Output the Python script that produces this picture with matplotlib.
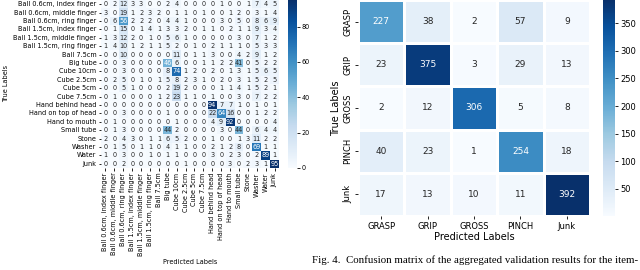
import numpy as np
import matplotlib
matplotlib.use('Agg')
import matplotlib.pyplot as plt
import seaborn as sns

# item level confusion matrix (left)
item_labels = ['Ball 0.6cm, index finger', 'Ball 0.6cm, middle finger', 'Ball 0.6cm, ring finger',
               'Ball 1.5cm, index finger', 'Ball 1.5cm, middle finger', 'Ball 1.5cm, ring finger',
               'Ball 7.5cm', 'Big tube', 'Cube 10cm', 'Cube 2.5cm', 'Cube 5cm', 'Cube 7.5cm',
               'Hand behind head', 'Hand on top of head', 'Hand to mouth', 'Small tube',
               'Stone', 'Washer', 'Water', 'Junk']
item_counts = [
    [0, 2, 12, 3, 3, 0, 0, 2, 4, 0, 0, 0, 0, 1, 0, 0, 1, 7, 4, 5],
    [3, 0, 19, 1, 2, 3, 2, 0, 1, 1, 0, 1, 0, 0, 1, 2, 0, 3, 1, 4],
    [0, 6, 56, 2, 2, 2, 0, 4, 4, 1, 0, 0, 0, 3, 0, 5, 0, 8, 6, 9],
    [0, 1, 15, 0, 1, 4, 1, 3, 3, 2, 0, 1, 1, 0, 2, 1, 1, 9, 3, 4],
    [1, 3, 12, 2, 0, 1, 0, 5, 6, 1, 0, 0, 0, 0, 0, 3, 0, 7, 1, 2],
    [1, 4, 10, 1, 2, 1, 1, 5, 2, 0, 1, 0, 2, 1, 1, 1, 0, 5, 3, 3],
    [0, 0, 10, 0, 0, 0, 0, 0, 11, 0, 1, 1, 3, 0, 0, 4, 2, 9, 1, 2],
    [0, 0, 3, 0, 0, 0, 0, 46, 6, 0, 0, 1, 1, 2, 2, 41, 0, 5, 2, 2],
    [0, 0, 3, 0, 0, 0, 0, 8, 74, 1, 2, 0, 2, 0, 1, 3, 1, 5, 6, 5],
    [0, 2, 5, 0, 1, 0, 1, 5, 8, 2, 3, 1, 0, 2, 0, 3, 1, 5, 2, 5],
    [0, 0, 5, 1, 0, 0, 0, 2, 19, 2, 0, 0, 0, 1, 1, 4, 1, 5, 2, 1],
    [0, 1, 0, 0, 0, 0, 1, 2, 23, 1, 1, 0, 1, 0, 0, 3, 0, 7, 2, 2],
    [0, 0, 0, 0, 0, 0, 0, 0, 0, 0, 0, 0, 94, 7, 7, 1, 0, 1, 0, 1],
    [0, 0, 3, 0, 0, 0, 0, 1, 0, 0, 0, 0, 22, 64, 16, 0, 0, 1, 2, 2],
    [0, 1, 0, 0, 0, 0, 0, 0, 1, 0, 0, 0, 4, 9, 92, 0, 0, 0, 0, 4],
    [0, 1, 3, 0, 0, 0, 0, 44, 2, 0, 0, 0, 0, 3, 0, 44, 0, 6, 4, 4],
    [2, 0, 4, 3, 0, 1, 1, 6, 5, 2, 0, 0, 1, 0, 0, 1, 3, 11, 2, 2],
    [0, 1, 5, 0, 1, 1, 0, 4, 1, 1, 0, 0, 2, 1, 2, 8, 0, 69, 1, 1],
    [1, 0, 3, 0, 0, 1, 0, 1, 1, 0, 0, 0, 3, 0, 2, 3, 0, 2, 89, 1],
    [0, 0, 2, 0, 0, 0, 0, 0, 0, 1, 0, 0, 0, 0, 3, 0, 2, 3, 1, 95],
]

# aggregated confusion matrix (right)
group_labels = ['GRASP', 'GRIP', 'GROSS', 'PINCH', 'Junk']
group_counts = [
    [227, 38, 2, 57, 9],
    [23, 375, 3, 29, 13],
    [2, 12, 306, 5, 8],
    [40, 23, 1, 254, 18],
    [17, 13, 10, 11, 392],
]

caption = 'Fig. 4.  Confusion matrix of the aggregated validation results for the item-'

W, H = 640, 270


def box(x0, y0, x1, y1):
    # pixel box (top-left origin) -> figure fraction
    return [x0 / W, 1 - y1 / H, (x1 - x0) / W, (y1 - y0) / H]


def draw(fig, hm_box, cb_box, counts, labels, fs, afs, lab_fs, lw, xrot, yrot, xpad, ypad, tlen):
    ax = fig.add_axes(box(*hm_box))
    cax = fig.add_axes(box(*cb_box))
    sns.heatmap(np.array(counts), annot=True, fmt='d', cmap='Blues', ax=ax, cbar_ax=cax,
                linewidths=lw, linecolor='white', annot_kws={'fontsize': afs},
                xticklabels=labels, yticklabels=labels)
    ax.tick_params(labelsize=fs, length=tlen, width=0.6, pad=1.5)
    ax.set_xticklabels(labels, rotation=xrot)
    ax.set_yticklabels(labels, rotation=yrot, va='center')
    ax.set_xlabel('Predicted Labels', fontsize=lab_fs, labelpad=xpad)
    ax.set_ylabel('True Labels', fontsize=lab_fs, labelpad=ypad)
    cax.tick_params(labelsize=fs, length=tlen, width=0.6, pad=1.5)
    return ax, cax


fig = plt.figure(figsize=(6.4, 2.7), dpi=100)

draw(fig, (101, 0, 279, 168), (288, 0, 297, 168), item_counts, item_labels,
     4.7, 4.7, 4.7, 0, 90, 0, 2.5, 3, 1.8)
draw(fig, (358, 0, 590, 216), (603, 0, 615, 216), group_counts, group_labels,
     6, 6.5, 7, 0.8, 0, 90, 1, 2, 2.5)

fig.text(312 / W, 1 - 260 / H, caption, fontsize=7.8, family='Liberation Serif',
         ha='left', va='center')

fig.savefig('out.png', dpi=100)
